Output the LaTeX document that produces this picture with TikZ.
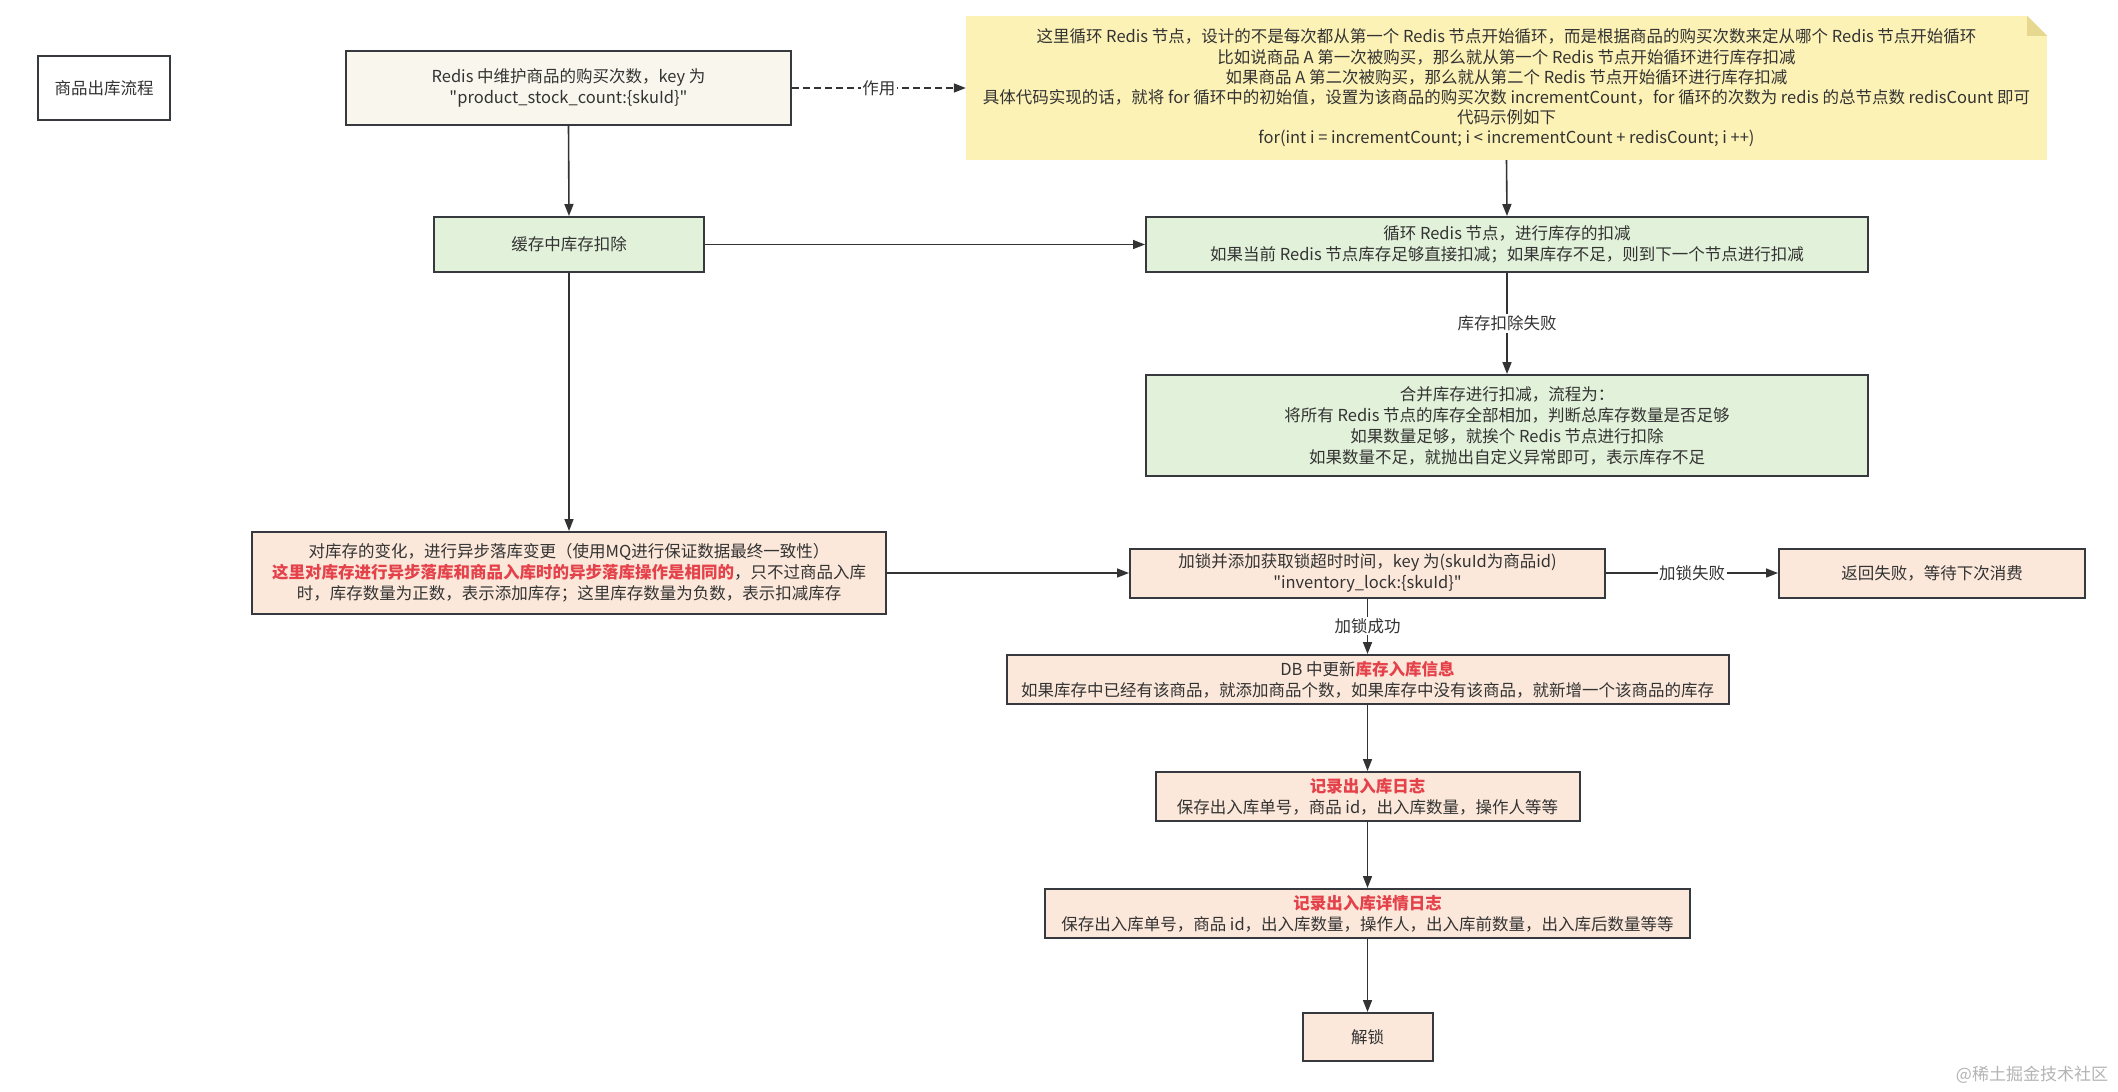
\documentclass[tikz,border=0pt]{standalone}
\usepackage{fontspec}
\setmainfont{Noto Sans CJK SC}[Ligatures=TeXOff]
\usetikzlibrary{arrows.meta}
\definecolor{ink}{HTML}{333333}
\definecolor{edgec}{HTML}{333333}
\definecolor{boxline}{HTML}{36393D}
\definecolor{cream}{HTML}{F9F7ED}
\definecolor{mygreen}{HTML}{E2F1D9}
\definecolor{peach}{HTML}{FBE8DA}
\definecolor{noteyellow}{HTML}{FCF2B6}
\definecolor{notefold}{HTML}{E6D88E}
\definecolor{hl}{HTML}{E5414A}
\definecolor{wm}{HTML}{B4B4B4}
\begin{document}
\begin{tikzpicture}[x=1pt,y=-1pt,
  every node/.style={font=\fontsize{16.5}{21}\selectfont, text=ink},
  box/.style={draw=boxline, line width=2pt, align=center, inner sep=2pt},
  plain/.style={box, fill=white},
  creambox/.style={box, fill=cream},
  greenbox/.style={box, fill=mygreen},
  peachbox/.style={box, fill=peach},
  conn/.style={draw=edgec, line width=1.6pt, -{Triangle[length=12pt,width=9pt]}},
  elabel/.style={fill=white, inner sep=1.5pt}
]
\useasboundingbox[fill=white] (0,0) rectangle (2118,1092);

% title
\node[plain, minimum width=132pt, minimum height=64pt] (title) at (104,88) {商品出库流程};

% redis
\node[creambox, minimum width=445pt, minimum height=74pt] (redis) at (568.5,88)
  {Redis 中维护商品的购买次数，key 为\\"product\_stock\_count:\{skuId\}"};

% note
\node[fill=noteyellow, align=center, inner sep=2pt, minimum width=1081pt, minimum height=144pt,
      font=\fontsize{16.5}{20.2}\selectfont] (note) at (1506.5,88)
  {这里循环 Redis 节点，设计的不是每次都从第一个 Redis 节点开始循环，而是根据商品的购买次数来定从哪个 Redis 节点开始循环\\
   比如说商品 A 第一次被购买，那么就从第一个 Redis 节点开始循环进行库存扣减\\
   如果商品 A 第二次被购买，那么就从第二个 Redis 节点开始循环进行库存扣减\\
   具体代码实现的话，就将 for 循环中的初始值，设置为该商品的购买次数 incrementCount，for 循环的次数为 redis 的总节点数 redisCount 即可\\
   代码示例如下\\
   for(int i = incrementCount; i < incrementCount + redisCount; i ++)};
\fill[white] (note.north east) -- ++(-20,0) -- ++(20,20) -- cycle;
\fill[notefold] (note.north east) ++(-20,0) -- ++(0,20) -- ++(20,0) -- cycle;

% left column
\node[greenbox, minimum width=270pt, minimum height=55pt] (cache) at (569,244.5) {缓存中库存扣除};
\node[peachbox, minimum width=634pt, minimum height=82pt] (async) at (569,573)
  {对库存的变化，进行异步落库变更（使用MQ进行保证数据最终一致性）\\
   {\bfseries\color{hl}这里对库存进行异步落库和商品入库时的异步落库操作是相同的}，只不过商品入库\\
   时，库存数量为正数，表示添加库存；这里库存数量为负数，表示扣减库存};

% right column
\node[greenbox, minimum width=722pt, minimum height=55pt] (loop) at (1507,244.5)
  {循环 Redis 节点，进行库存的扣减\\如果当前 Redis 节点库存足够直接扣减；如果库存不足，则到下一个节点进行扣减};
\node[greenbox, minimum width=722pt, minimum height=101pt] (merge) at (1507,425.5)
  {合并库存进行扣减，流程为：\\
   将所有 Redis 节点的库存全部相加，判断总库存数量是否足够\\
   如果数量足够，就挨个 Redis 节点进行扣除\\
   如果数量不足，就抛出自定义异常即可，表示库存不足};

\node[peachbox, minimum width=475pt, minimum height=49pt] (lock) at (1367.5,573)
  {加锁并添加获取锁超时时间，key 为(skuId为商品id)\\"inventory\_lock:\{skuId\}"};
\node[peachbox, minimum width=306pt, minimum height=49pt] (ret) at (1932,573)
  {返回失败，等待下次消费};
\node[peachbox, minimum width=722pt, minimum height=49pt] (db) at (1367.5,679.5)
  {DB 中更新{\bfseries\color{hl}库存入库信息}\\如果库存中已经有该商品，就添加商品个数，如果库存中没有该商品，就新增一个该商品的库存};
\node[peachbox, minimum width=424pt, minimum height=49pt] (log) at (1367.5,796.5)
  {{\bfseries\color{hl}记录出入库日志}\\保存出入库单号，商品 id，出入库数量，操作人等等};
\node[peachbox, minimum width=645pt, minimum height=49pt] (detail) at (1367.5,913.5)
  {{\bfseries\color{hl}记录出入库详情日志}\\保存出入库单号，商品 id，出入库数量，操作人，出入库前数量，出入库后数量等等};
\node[peachbox, minimum width=130pt, minimum height=48pt] (unlock) at (1367.5,1037) {解锁};

% watermark
\node[text=wm, font=\fontsize{17}{20}\selectfont] (wmark) at (2032,1075) {@稀土掘金技术社区};

% connectors
\draw[conn, dashed, dash pattern=on 7pt off 4pt] (redis.east) -- node[elabel]{作用} (note.west);
\draw[conn] (redis.south) -- (cache.north);
\draw[conn] (note.south) -- (loop.north);
\draw[conn] (cache.east) -- (loop.west);
\draw[conn] (loop.south) -- node[elabel]{库存扣除失败} (merge.north);
\draw[conn] (cache.south) -- (async.north);
\draw[conn] (async.east) -- (lock.west);
\draw[conn] (lock.east) -- node[elabel]{加锁失败} (ret.west);
\draw[conn] (lock.south) -- node[elabel]{加锁成功} (db.north);
\draw[conn] (db.south) -- (log.north);
\draw[conn] (log.south) -- (detail.north);
\draw[conn] (detail.south) -- (unlock.north);
\end{tikzpicture}
\end{document}
